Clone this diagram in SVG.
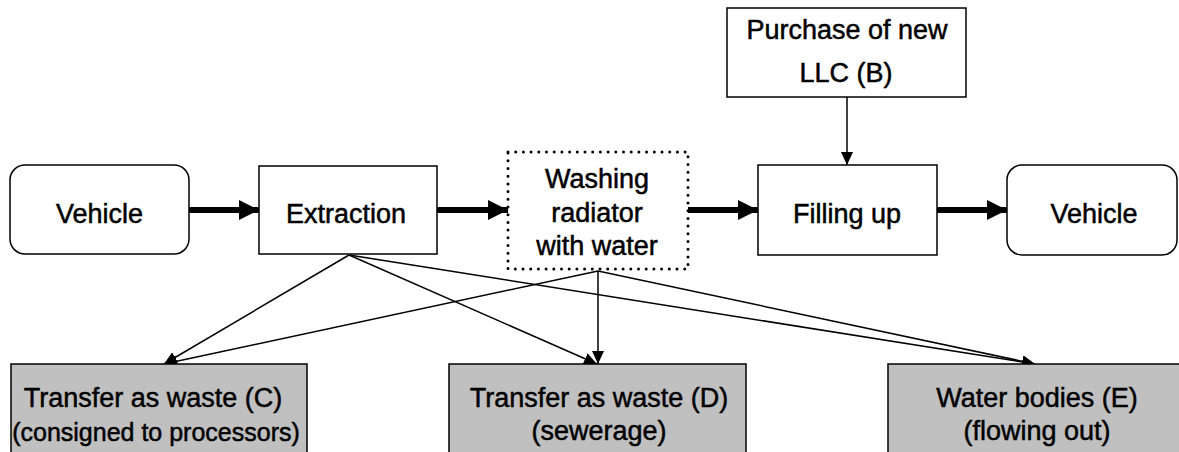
<svg xmlns="http://www.w3.org/2000/svg" width="1179" height="452" viewBox="0 0 1179 452">
<style>
  .box { fill: #ffffff; stroke: #000000; stroke-width: 1.5; }
  .out { fill: #c0c0c0; stroke: #000000; stroke-width: 1.5; }
  .dotted { fill: #ffffff; stroke: #000000; stroke-width: 3; stroke-dasharray: 0 7.7; stroke-linecap: round; }
  text { font-family: "Liberation Sans", Arial, sans-serif; font-size: 27px; fill: #000000; stroke: #000000; stroke-width: 0.5; text-anchor: middle; }
  .small { font-size: 25px; }
  .thick { stroke: #000000; stroke-width: 6; fill: none; }
  .thin { stroke: #000000; stroke-width: 1.5; fill: none; }
</style>
<defs>
  <marker id="bigArrow" markerUnits="userSpaceOnUse" markerWidth="20" markerHeight="20" refX="20" refY="10" orient="auto">
    <path d="M0,0 L20,10 L0,20 Z" fill="#000000"/>
  </marker>
  <marker id="smallArrow" markerUnits="userSpaceOnUse" markerWidth="13" markerHeight="12" refX="13" refY="6" orient="auto">
    <path d="M0,0 L13,6 L0,12 Z" fill="#000000"/>
  </marker>
</defs>
<rect width="1179" height="452" fill="#ffffff"/>

<g id="connectors">
  <line class="thick" x1="189" y1="210" x2="259" y2="210" marker-end="url(#bigArrow)"/>
  <line class="thick" x1="437" y1="210" x2="508" y2="210" marker-end="url(#bigArrow)"/>
  <line class="thick" x1="688" y1="210" x2="758" y2="210" marker-end="url(#bigArrow)"/>
  <line class="thick" x1="937" y1="210" x2="1007" y2="210" marker-end="url(#bigArrow)"/>
  <line class="thin" x1="847" y1="97" x2="847" y2="165" marker-end="url(#smallArrow)"/>
  <line class="thin" x1="349" y1="255" x2="164" y2="364" marker-end="url(#smallArrow)"/>
  <line class="thin" x1="349" y1="255" x2="597" y2="364" marker-end="url(#smallArrow)"/>
  <line class="thin" x1="349" y1="255" x2="1035" y2="364" marker-end="url(#smallArrow)"/>
  <line class="thin" x1="598" y1="271" x2="164" y2="364" marker-end="url(#smallArrow)"/>
  <line class="thin" x1="598" y1="271" x2="598" y2="364" marker-end="url(#smallArrow)"/>
  <line class="thin" x1="598" y1="271" x2="1035" y2="364" marker-end="url(#smallArrow)"/>
</g>

<g id="vehicle-in">
  <rect class="box" x="10" y="165" width="179" height="89" rx="15" ry="15"/>
  <text x="99.5" y="223">Vehicle</text>
</g>
<g id="extraction">
  <rect class="box" x="259" y="166" width="178" height="88"/>
  <text x="346" y="223">Extraction</text>
</g>
<g id="washing">
  <rect class="dotted" x="508" y="152" width="180" height="117"/>
  <text x="597" y="188">Washing</text>
  <text x="597" y="222">radiator</text>
  <text x="597" y="255">with water</text>
</g>
<g id="purchase">
  <rect class="box" x="727" y="8" width="239" height="89"/>
  <text x="847" y="39">Purchase of new</text>
  <text x="846" y="82">LLC (B)</text>
</g>
<g id="filling">
  <rect class="box" x="758" y="165" width="179" height="90"/>
  <text x="847" y="223">Filling up</text>
</g>
<g id="vehicle-out">
  <rect class="box" x="1007" y="165" width="170" height="90" rx="15" ry="15"/>
  <text x="1094" y="223">Vehicle</text>
</g>
<g id="waste-c">
  <rect class="out" x="11" y="364" width="296" height="100"/>
  <text x="153" y="407">Transfer as waste (C)</text>
  <text class="small" x="156" y="441">(consigned to processors)</text>
</g>
<g id="waste-d">
  <rect class="out" x="449" y="364" width="297" height="100"/>
  <text x="599" y="407">Transfer as waste (D)</text>
  <text x="599" y="440">(sewerage)</text>
</g>
<g id="water-e">
  <rect class="out" x="888" y="364" width="300" height="100"/>
  <text x="1037" y="407">Water bodies (E)</text>
  <text x="1037" y="440">(flowing out)</text>
</g>
</svg>
